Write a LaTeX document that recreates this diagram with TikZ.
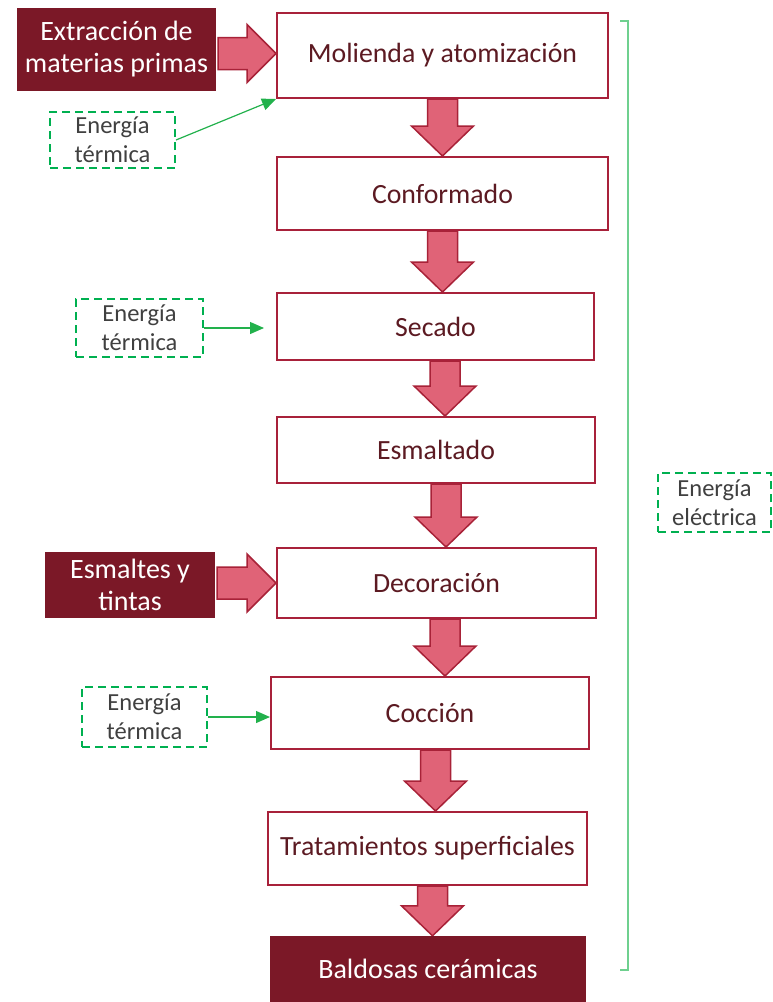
\documentclass[tikz,border=0pt]{standalone}
\usepackage{fontspec}
\setmainfont{Carlito}
\usetikzlibrary{arrows.meta,calc}
\definecolor{dred}{HTML}{7B1827}
\definecolor{bord}{HTML}{A8213A}
\definecolor{afill}{HTML}{E06377}
\definecolor{aline}{HTML}{A82238}
\definecolor{txt}{HTML}{5C1A22}
\definecolor{gdash}{HTML}{00B050}
\definecolor{garr}{HTML}{22B14C}
\definecolor{gbr}{HTML}{6FD08F}
\definecolor{gtxt}{HTML}{404040}
\pgfdeclarelayer{bg}
\pgfsetlayers{bg,main}
\newcommand\blkdown[3]{%
  \draw[blk] let \p1=(#1.south), \p2=(#2.north), \n1={\x1+#3pt} in
  (\n1-15pt,\y1) -- (\n1+15pt,\y1) -- (\n1+15pt,\y2+30pt) -- (\n1+31pt,\y2+30pt)
  -- (\n1,\y2) -- (\n1-31pt,\y2+30pt) -- (\n1-15pt,\y2+30pt) -- cycle;}
\newcommand\blkright[3]{%
  \draw[blk] let \p1=(#1.east), \p2=(#2.west), \n2={\y2+#3pt} in
  (\x1+2pt,\n2-16pt) -- (\x2-29pt,\n2-16pt) -- (\x2-29pt,\n2-29pt) -- (\x2,\n2)
  -- (\x2-29pt,\n2+29pt) -- (\x2-29pt,\n2+16pt) -- (\x1+2pt,\n2+16pt) -- cycle;}
\begin{document}
\begin{tikzpicture}[x=1pt,y=-1pt,
  proc/.style={draw=bord,line width=2pt,fill=white,text=txt,font=\fontsize{27.8}{33}\selectfont,inner sep=0pt},
  dark/.style={fill=dred,text=white,font=\fontsize{28}{32}\selectfont,align=center,inner sep=0pt},
  energy/.style={draw=gdash,line width=2pt,dash pattern=on 8pt off 5pt,text=gtxt,font=\fontsize{24.5}{29}\selectfont,align=center,inner sep=0pt},
  blk/.style={fill=afill,draw=aline,line width=1.5pt,line join=miter},
  garrow/.style={draw=garr,line width=1.2pt,-{Triangle[length=14pt,width=12pt]}},
  brk/.style={draw=gbr,line width=1.4pt}
]
\useasboundingbox (0,0) rectangle (773,1002);
% process boxes
\node[proc,minimum width=331pt,minimum height=85pt] (m) at (442.5,55.5) {Molienda y atomización};
\node[proc,minimum width=331pt,minimum height=73pt] (c) at (442.5,193.5) {Conformado};
\node[proc,minimum width=317pt,minimum height=67pt] (s) at (435.5,326.5) {Secado};
\node[proc,minimum width=318pt,minimum height=66pt] (e) at (436,450) {Esmaltado};
\node[proc,minimum width=319pt,minimum height=70pt] (d) at (436.5,583) {Decoración};
\node[proc,minimum width=318pt,minimum height=72pt] (k) at (430,713) {Cocción};
\node[proc,minimum width=319pt,minimum height=73pt] (t) at (427.5,848.5) {Tratamientos superficiales};
\node[dark,minimum width=316pt,minimum height=66pt] (b) at (428,969) {Baldosas cerámicas};
% inputs
\node[dark,minimum width=199pt,minimum height=83pt] (x) at (116.5,49.5) {Extracción de\\materias primas};
\node[dark,minimum width=170pt,minimum height=66pt] (y) at (130,585) {Esmaltes y\\tintas};
% energy
\node[energy,minimum width=125pt,minimum height=56pt] (E1) at (112.5,140) {Energía\\térmica};
\node[energy,minimum width=127pt,minimum height=58pt] (E2) at (139.5,328) {Energía\\térmica};
\node[energy,minimum width=125pt,minimum height=60pt] (E3) at (144.5,717) {Energía\\térmica};
\node[energy,minimum width=113pt,minimum height=59pt] (EE) at (714.5,502.5) {Energía\\eléctrica};
% block arrows
\begin{pgfonlayer}{bg}
\blkdown{m}{c}{0}
\blkdown{c}{s}{0}
\blkdown{s}{e}{9.5}
\blkdown{e}{d}{10}
\blkdown{d}{k}{8.5}
\blkdown{k}{t}{5.5}
\blkdown{t}{b}{5}
\blkright{x}{m}{2}
\blkright{y}{d}{0}
\end{pgfonlayer}
% energy arrows
\draw[garrow] (E1.east) -- (m.south west);
\draw[garrow,shorten >=12pt] (E2.east) -- (E2.east -| s.west);
\draw[garrow] (E3.east) -- (E3.east -| k.west);
% bracket
\coordinate (bt) at (620,21);
\coordinate (bb) at (620,970);
\draw[brk] (bt) -- ++(8,0) |- (bb);
\end{tikzpicture}
\end{document}
